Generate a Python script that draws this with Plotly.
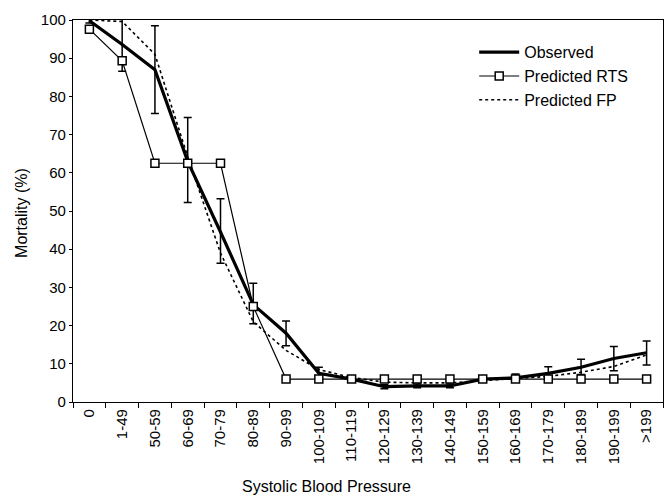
import plotly.graph_objects as go

categories = ["0", "1-49", "50-59", "60-69", "70-79", "80-89", "90-99", "100-109",
              "110-119", "120-129", "130-139", "140-149", "150-159", "160-169",
              "170-179", "180-189", "190-199", ">199"]
observed = [99.8, 93.6, 87.0, 63.0, 44.5, 25.5, 18.0, 7.5, 6.0, 4.0, 4.2, 4.2, 6.0, 6.3, 7.5, 9.1, 11.4, 12.9]
obs_err_plus = [0.6, 7.0, 11.5, 11.5, 8.7, 5.6, 3.2, 1.6, 0.6, 0.5, 0.5, 0.5, 0.5, 1.0, 1.7, 2.1, 3.1, 3.1]
obs_err_minus = [0.6, 7.0, 11.5, 10.8, 8.2, 5.0, 3.3, 1.5, 0.6, 0.5, 0.5, 0.5, 0.5, 0.8, 1.5, 1.9, 3.2, 3.2]
pred_rts = [97.6, 89.3, 62.5, 62.5, 62.5, 25.0, 6.0, 6.0, 6.0, 6.0, 6.0, 6.0, 6.0, 6.0, 6.0, 6.0, 6.0, 6.0]
pred_fp = [100.0, 99.6, 91.0, 64.2, 39.0, 21.0, 13.5, 8.5, 6.4, 5.2, 5.0, 5.0, 5.6, 6.1, 6.7, 7.8, 9.3, 12.3]

font = "Liberation Sans, Arial, sans-serif"

fig = go.Figure()
fig.add_trace(go.Scatter(
    x=categories, y=pred_fp, mode="lines", name="Predicted FP",
    line=dict(color="black", width=1.6, dash="dot"), legendrank=3))
fig.add_trace(go.Scatter(
    x=categories, y=observed, mode="lines", name="Observed",
    line=dict(color="black", width=3.2),
    error_y=dict(type="data", array=obs_err_plus, arrayminus=obs_err_minus,
                 color="black", thickness=1.5, width=4),
    legendrank=1))
fig.add_trace(go.Scatter(
    x=categories, y=pred_rts, mode="lines+markers", name="Predicted RTS",
    line=dict(color="black", width=1.2),
    marker=dict(symbol="square", size=8, color="white",
                line=dict(color="black", width=1.5)),
    legendrank=2))

fig.update_layout(
    width=669, height=498,
    margin=dict(l=73, r=6, t=20, b=96),
    paper_bgcolor="white", plot_bgcolor="white",
    font=dict(family=font, size=15, color="black"),
    showlegend=True,
    legend=dict(x=0.68, y=0.96, xanchor="left", yanchor="top",
                bgcolor="rgba(0,0,0,0)", borderwidth=0,
                font=dict(family=font, size=16, color="black"),
                tracegroupgap=0, itemwidth=40),
    annotations=[
        dict(text="Systolic Blood Pressure", xref="paper", yref="paper",
             x=0.429, y=-0.2225, xanchor="center", yanchor="middle",
             showarrow=False, font=dict(family=font, size=16, color="black")),
        dict(text="Mortality (%)", xref="paper", yref="paper",
             x=-0.0864, y=0.495, xanchor="center", yanchor="middle",
             textangle=-90, showarrow=False,
             font=dict(family=font, size=16, color="black")),
    ],
)
fig.update_xaxes(
    type="category", categoryorder="array", categoryarray=categories,
    range=[-0.5, len(categories) - 0.5],
    tickangle=-90, ticks="outside", tickson="boundaries", ticklen=5,
    tickcolor="black", showline=True, linecolor="black", linewidth=1.2,
    mirror=True, showgrid=False, zeroline=False, automargin=False,
    tickfont=dict(family=font, size=15, color="black"),
)
fig.update_yaxes(
    range=[0, 100], dtick=10, ticks="outside", ticklen=3, tickcolor="black",
    showline=True, linecolor="black", linewidth=1.2, mirror=True,
    showgrid=False, zeroline=False, automargin=False,
    tickfont=dict(family=font, size=15, color="black"),
)
fig.write_html("out.html", config={"displayModeBar": False},
               post_script="document.body.style.margin='0';document.body.style.overflow='hidden';")
